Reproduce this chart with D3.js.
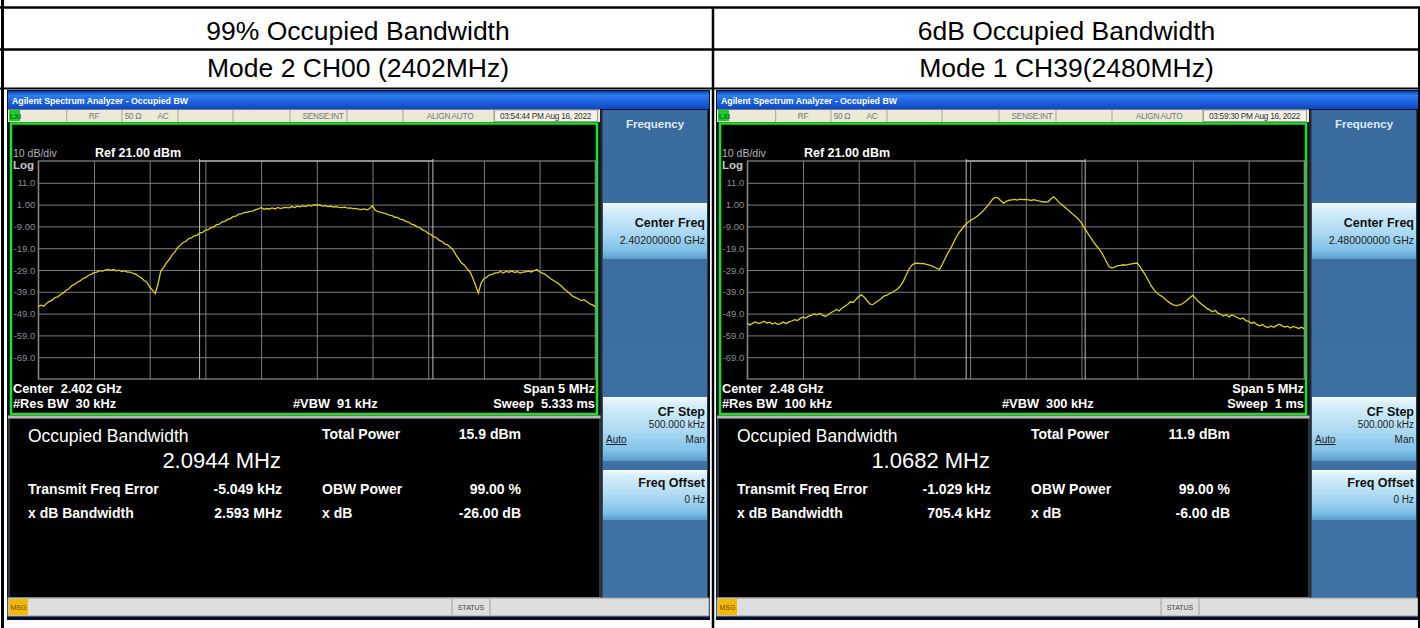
<!DOCTYPE html>
<html><head><meta charset="utf-8">
<script src="https://cdn.jsdelivr.net/npm/d3@7"></script>
<style>
html,body{margin:0;padding:0;background:#fff;}
svg{display:block;}
text{font-family:"Liberation Sans",Arial,sans-serif;}
</style></head>
<body>
<svg id="c" width="1420" height="628"></svg>
<script>
// ---------------- DATA ----------------
const headerTitles = ["99% Occupied Bandwidth", "6dB Occupied Bandwidth"];
const modeLabels = ["Mode 2 CH00 (2402MHz)", "Mode 1 CH39(2480MHz)"];
const timestamps = ["03:54:44 PM Aug 16, 2022", "03:59:30 PM Aug 16, 2022"];
const centerLabels = ["Center  2.402 GHz", "Center  2.48 GHz"];
const rbwLabels = ["#Res BW  30 kHz", "#Res BW  100 kHz"];
const vbwLabels = ["#VBW  91 kHz", "#VBW  300 kHz"];
const spanLabels = ["Span 5 MHz", "Span 5 MHz"];
const sweepLabels = ["Sweep  5.333 ms", "Sweep  1 ms"];
const centerFreqKeys = ["2.402000000 GHz", "2.480000000 GHz"];
const obwLabels = ["2.0944 MHz", "1.0682 MHz"];
const totalPowerLabels = ["15.9 dBm", "11.9 dBm"];
const freqErrorLabels = ["-5.049 kHz", "-1.029 kHz"];
const xdbBwLabels = ["2.593 MHz", "705.4 kHz"];
const obwPowerLabels = ["99.00 %", "99.00 %"];
const xdbLabels = ["-26.00 dB", "-6.00 dB"];
const obwMHz = [2.0944, 1.0682];
const freqErrMHz = [-0.005049, -0.001029];
const refLevel = 21;           // dBm
const dbPerDiv = 10;
const spanMHz = 5;
const yTickValues = [11, 1, -9, -19, -29, -39, -49, -59, -69];
const yTickLabels = ["11.0", "1.00", "-9.00", "-19.0", "-29.0", "-39.0", "-49.0", "-59.0", "-69.0"];

// trace (dBm), sweep from -2.5 MHz to +2.5 MHz offset
const traceMode2CH00 = [
-45.8,-45.1,-45.6,-44.2,-43.4,-42.8,-41.6,-41.3,-40.2,-39.5,-38.3,-37.6,-36.2,-35.6,-34.6,-34.0,-32.9,-32.5,-31.4,-31.0,-30.2,-30.0,-29.3,-29.5,-29.1,
-28.7,-29.2,-28.8,-29.4,-29.1,-29.7,-29.4,-30.0,-30.0,-30.6,-30.9,-31.9,-32.6,-33.8,-34.6,-36.8,-38.2,-39.7,-35.3,-29.4,-27.8,-25.7,-24.2,-22.2,-20.8,
-18.8,-17.6,-16.4,-15.8,-14.6,-14.3,-13.3,-13.1,-12.0,-11.8,-10.7,-10.5,-9.6,-9.3,-8.2,-8.0,-6.9,-6.7,-5.8,-5.4,-4.4,-4.3,-3.4,-3.3,-2.6,
-2.6,-2.1,-2.0,-1.3,-1.0,-0.3,-1.2,-0.8,-1.0,-0.5,-1.0,-0.3,-0.8,-0.4,-0.3,-0.5,0.1,-0.4,0.3,0.0,0.5,0.1,0.7,0.3,1.0,
0.7,0.9,0.3,0.5,0.1,0.3,-0.1,0.1,-0.3,-0.4,-0.2,-0.6,-0.5,-0.8,-0.7,-1.1,-1.3,-1.0,-1.4,-0.8,0.5,-1.6,-2.2,-2.6,-2.9,
-3.2,-3.8,-4.0,-4.8,-4.9,-5.8,-5.9,-6.8,-7.0,-8.0,-8.3,-9.2,-9.6,-10.7,-11.1,-12.2,-12.7,-13.8,-14.2,-15.4,-15.9,-17.1,-17.5,-18.7,-19.8,
-22.2,-24.0,-25.8,-26.8,-28.5,-29.8,-32.7,-36.0,-39.6,-35.0,-33.0,-32.3,-31.2,-31.0,-30.3,-30.3,-29.7,-30.4,-29.6,-30.1,-29.4,-30.2,-29.7,-30.4,-30.0,
-29.8,-29.5,-29.9,-29.3,-28.8,-29.8,-30.4,-31.0,-32.0,-33.0,-33.8,-34.6,-35.5,-36.6,-37.9,-38.9,-40.0,-41.1,-41.7,-42.3,-43.0,-42.6,-43.6,-44.5,-45.0,-45.8
];
const traceMode1CH39 = [
-53.5,-54.2,-53.4,-52.8,-53.6,-53.1,-52.5,-53.3,-52.9,-53.8,-53.2,-54.0,-53.5,-52.9,-53.6,-52.8,-52.4,-51.8,-52.2,-51.2,-50.6,-51.0,-50.2,-49.8,-49.2,
-49.6,-48.9,-49.7,-50.3,-49.5,-48.6,-47.9,-47.1,-47.8,-46.5,-45.6,-44.8,-43.6,-43.9,-42.5,-41.2,-40.4,-41.5,-43.0,-44.6,-44.9,-44.0,-43.1,-42.2,-41.0,
-40.6,-39.9,-39.2,-38.5,-37.6,-36.3,-34.2,-31.5,-28.8,-26.9,-26.0,-25.9,-26.1,-26.0,-26.3,-26.6,-27.0,-27.6,-28.2,-28.7,-26.5,-23.8,-21.2,-19.2,-16.6,
-14.0,-11.9,-10.3,-8.7,-7.3,-6.4,-5.6,-4.8,-3.9,-2.7,-1.4,0.0,1.6,3.4,4.3,4.1,2.8,1.7,2.5,3.0,3.2,3.4,3.1,3.5,3.3,
3.4,3.2,2.9,3.3,2.8,2.6,2.3,2.2,2.3,3.6,4.6,3.4,1.9,0.9,-0.2,-1.2,-2.4,-3.6,-4.6,-5.8,-7.5,-9.6,-11.6,-13.6,-15.5,
-17.3,-18.9,-20.6,-22.8,-25.3,-27.6,-28.1,-27.6,-27.0,-26.9,-26.6,-26.8,-26.4,-26.2,-26.0,-25.8,-27.4,-29.5,-31.4,-33.8,-36.2,-38.0,-39.5,-40.5,-41.2,
-42.3,-43.4,-44.3,-45.0,-45.3,-45.1,-44.6,-43.8,-42.8,-41.6,-40.6,-42.0,-43.5,-44.6,-45.5,-46.6,-47.3,-48.2,-47.5,-48.8,-49.3,-50.1,-49.4,-50.5,-49.6,
-50.2,-50.8,-51.5,-51.0,-52.2,-52.6,-53.4,-53.0,-54.1,-54.6,-54.0,-55.0,-55.4,-54.7,-55.3,-54.5,-53.9,-54.6,-55.2,-54.8,-55.6,-54.9,-55.3,-55.8,-55.2,-56.0
];
const traces = [traceMode2CH00, traceMode1CH39];

// ---------------- DRAW ----------------
const svg = d3.select("#c");
const defs = svg.append("defs");
function grad(id, stops){
  const g = defs.append("linearGradient").attr("id", id).attr("x1",0).attr("y1",0).attr("x2",0).attr("y2",1);
  stops.forEach(s=>g.append("stop").attr("offset",s[0]).attr("stop-color",s[1]));
}
grad("titleG", [[0,"#0a3fb0"],[0.25,"#2f7cf2"],[0.6,"#1c62dc"],[1,"#0d47c4"]]);
grad("keyG", [[0,"#f4fbff"],[0.12,"#d6eefa"],[0.55,"#a9d8f2"],[0.85,"#7fc0e8"],[1,"#5a9ccc"]]);
grad("panelG", [[0,"#3a6b9e"],[1,"#3e72a6"]]);

svg.append("rect").attr("width",1420).attr("height",628).attr("fill","#fff");

// table header texts
const cellCenters = [358, 1066.5];
cellCenters.forEach((cx,i)=>{
  svg.append("text").attr("x",cx).attr("y",40).attr("text-anchor","middle")
    .attr("font-size",26.5).attr("fill","#000").text(headerTitles[i]);
  svg.append("text").attr("x",cx).attr("y",77).attr("text-anchor","middle")
    .attr("font-size",26.5).attr("fill","#000").text(modeLabels[i]);
});

const offsets = [0, 709];
offsets.forEach((dx,k)=> drawScreen(svg.append("g").attr("transform",`translate(${dx},0)`), k));

// table lines
const tl = svg.append("g").attr("stroke","#000");
tl.append("line").attr("x1",0).attr("x2",1420).attr("y1",7.5).attr("y2",7.5).attr("stroke-width",2.5);
tl.append("line").attr("x1",0).attr("x2",1420).attr("y1",49.5).attr("y2",49.5).attr("stroke-width",2.5);
tl.append("line").attr("x1",0).attr("x2",1420).attr("y1",88.5).attr("y2",88.5).attr("stroke-width",2);
tl.append("line").attr("x1",2.5).attr("x2",2.5).attr("y1",0).attr("y2",628).attr("stroke-width",3);
tl.append("line").attr("x1",713).attr("x2",713).attr("y1",7).attr("y2",628).attr("stroke-width",2.5);
tl.append("line").attr("x1",1419).attr("x2",1419).attr("y1",7).attr("y2",628).attr("stroke-width",2);

function drawScreen(g, k){
  // window frame
  g.append("rect").attr("x",7).attr("y",90).attr("width",703).attr("height",530).attr("fill","#05102e");
  g.append("rect").attr("x",8).attr("y",91).attr("width",701).attr("height",18).attr("fill","url(#titleG)");
  g.append("text").attr("x",12).attr("y",104).attr("font-size",9.5).attr("font-weight","bold")
    .attr("fill","#fff").attr("font-family","'DejaVu Sans Condensed','Liberation Sans',sans-serif")
    .attr("textLength",176).attr("lengthAdjust","spacingAndGlyphs")
    .text("Agilent Spectrum Analyzer - Occupied BW");
  // status bar
  g.append("rect").attr("x",8).attr("y",109.5).attr("width",592).attr("height",12.5).attr("fill","#ece9d8");
  [66.7,122,178,233,290,347,403,494].forEach(x=>g.append("line").attr("x1",x).attr("x2",x)
    .attr("y1",110).attr("y2",122).attr("stroke","#a8a594").attr("stroke-width",1));
  g.append("rect").attr("x",494.5).attr("y",110).attr("width",103).attr("height",11.5).attr("fill","#f4f2e8")
    .attr("stroke","#8f8c80").attr("stroke-width",0.8);
  g.append("rect").attr("x",9).attr("y",110).attr("width",11).attr("height",11).attr("fill","#1fcc1f");
  g.append("text").attr("x",10).attr("y",119).attr("font-size",7).attr("font-weight","bold").attr("fill","#063").text("LXI");
  const st = [["RF",94],["50 \u03A9",133],["AC",163],["SENSE:INT",323],["ALIGN AUTO",450],[timestamps[k],545.5]];
  st.forEach(([t,x],i)=>g.append("text").attr("x",x).attr("y",119).attr("text-anchor","middle")
    .attr("font-size",8.3).attr("fill", i==5?"#333":"#777").attr("letter-spacing",-0.3).text(t));

  // display area
  g.append("rect").attr("x",11).attr("y",123.5).attr("width",586).attr("height",290.5)
    .attr("fill","#000").attr("stroke","#1fe01f").attr("stroke-width",2.5);

  const x = d3.scaleLinear().domain([-spanMHz/2, spanMHz/2]).range([38.3, 595.3]);
  const y = d3.scaleLinear().domain([refLevel - 10*dbPerDiv, refLevel]).range([379, 161]);

  // labels top
  g.append("text").attr("x",13).attr("y",157).attr("font-size",10.5).attr("fill","#b4b4b4").text("10 dB/div");
  g.append("text").attr("x",95).attr("y",157).attr("font-size",12.5).attr("font-weight","bold").attr("fill","#fff").text("Ref 21.00 dBm");
  g.append("text").attr("x",13).attr("y",169).attr("font-size",11.5).attr("font-weight","bold").attr("fill","#c8c8c8").text("Log");

  // grid via axes
  const yAxis = d3.axisLeft(y).tickValues(yTickValues).tickFormat((d,i)=>yTickLabels[i])
    .tickSize(-(x.range()[1]-x.range()[0])).tickPadding(3);
  const ya = g.append("g").attr("transform",`translate(${x.range()[0]},0)`).call(yAxis);
  ya.select(".domain").remove();
  ya.selectAll("line").attr("stroke","#7c7c7c").attr("stroke-width",1);
  ya.selectAll("text").attr("fill","#8c8c8c").attr("font-size",9.5)
    .attr("font-family","'Liberation Sans',Arial,sans-serif");

  const xt = d3.range(0, 11).map(i => -spanMHz/2 + i*spanMHz/10);
  const xAxis = d3.axisBottom(x).tickValues(xt).tickFormat("").tickSize(-(y.range()[0]-y.range()[1]));
  const xa = g.append("g").attr("transform",`translate(0,${y.range()[0]})`).call(xAxis);
  xa.select(".domain").remove();
  xa.selectAll("line").attr("stroke","#7c7c7c").attr("stroke-width",1);
  // grid border
  g.append("rect").attr("x",x.range()[0]).attr("y",y.range()[1]).attr("width",x.range()[1]-x.range()[0])
    .attr("height",y.range()[0]-y.range()[1]).attr("fill","none").attr("stroke","#8a8a8a").attr("stroke-width",1.2);

  // OBW markers
  const fl = freqErrMHz[k] - obwMHz[k]/2, fr = freqErrMHz[k] + obwMHz[k]/2;
  [fl, fr].forEach(f=>g.append("line").attr("x1",x(f)).attr("x2",x(f)).attr("y1",159).attr("y2",y.range()[0])
    .attr("stroke","#bdbdbd").attr("stroke-width",1));
  g.append("line").attr("x1",x(fl)).attr("x2",x(fr)).attr("y1",161).attr("y2",161).attr("stroke","#c8c8c8").attr("stroke-width",1.2);

  // trace
  const tr = traces[k];
  const n = tr.length;
  const line = d3.line().x((d,i)=>x(-spanMHz/2 + spanMHz*i/(n-1))).y(d=>y(d));
  g.append("path").datum(tr).attr("d",line).attr("fill","none").attr("stroke","#d8d21a").attr("stroke-width",1.3);

  // bottom annotations
  const bl = g.append("g").attr("font-size",12.8).attr("font-weight","bold").attr("fill","#fff");
  bl.append("text").attr("x",13).attr("y",393).attr("xml:space","preserve").text(centerLabels[k]);
  bl.append("text").attr("x",13).attr("y",408).attr("xml:space","preserve").text(rbwLabels[k]);
  bl.append("text").attr("x",293).attr("y",408).attr("xml:space","preserve").text(vbwLabels[k]);
  bl.append("text").attr("x",595).attr("y",393).attr("text-anchor","end").text(spanLabels[k]);
  bl.append("text").attr("x",595).attr("y",408).attr("text-anchor","end").attr("xml:space","preserve").text(sweepLabels[k]);

  // separator + result panel
  g.append("rect").attr("x",8).attr("y",415.5).attr("width",593).attr("height",3).attr("fill","#b9b9b9");
  g.append("rect").attr("x",9).attr("y",418.5).attr("width",591).attr("height",179).attr("fill","#000")
    .attr("stroke","#6a6a6a").attr("stroke-width",1);
  const rp = g.append("g").attr("fill","#fff");
  rp.append("text").attr("x",28).attr("y",442).attr("font-size",17.5).text("Occupied Bandwidth");
  rp.append("text").attr("x",281).attr("y",468).attr("font-size",22).attr("text-anchor","end").text(obwLabels[k]);
  const b = rp.append("g").attr("font-size",14).attr("font-weight","bold");
  b.append("text").attr("x",322).attr("y",439).text("Total Power");
  b.append("text").attr("x",521).attr("y",439).attr("text-anchor","end").text(totalPowerLabels[k]);
  b.append("text").attr("x",28).attr("y",494).text("Transmit Freq Error");
  b.append("text").attr("x",282).attr("y",494).attr("text-anchor","end").text(freqErrorLabels[k]);
  b.append("text").attr("x",322).attr("y",494).text("OBW Power");
  b.append("text").attr("x",521).attr("y",494).attr("text-anchor","end").text(obwPowerLabels[k]);
  b.append("text").attr("x",28).attr("y",518).text("x dB Bandwidth");
  b.append("text").attr("x",282).attr("y",518).attr("text-anchor","end").text(xdbBwLabels[k]);
  b.append("text").attr("x",322).attr("y",518).text("x dB");
  b.append("text").attr("x",521).attr("y",518).attr("text-anchor","end").text(xdbLabels[k]);

  // softkey panel
  g.append("rect").attr("x",601).attr("y",110).attr("width",108).attr("height",488).attr("fill","url(#panelG)");
  g.append("line").attr("x1",601.5).attr("x2",601.5).attr("y1",110).attr("y2",598).attr("stroke","#2a2a2a").attr("stroke-width",2);
  g.append("line").attr("x1",708.5).attr("x2",708.5).attr("y1",110).attr("y2",598).attr("stroke","#0a0a0a").attr("stroke-width",2);
  g.append("text").attr("x",655).attr("y",128).attr("text-anchor","middle").attr("font-size",11.5)
    .attr("font-weight","bold").attr("fill","#dfe9f4").text("Frequency");
  const keys = [[203,56],[397,64],[470,50]];
  keys.forEach(([ky,kh])=>g.append("rect").attr("x",603).attr("y",ky).attr("width",104).attr("height",kh).attr("fill","url(#keyG)"));
  const kt = g.append("g").attr("fill","#111").attr("text-anchor","end");
  kt.append("text").attr("x",705).attr("y",227).attr("font-size",12.5).attr("font-weight","bold").text("Center Freq");
  kt.append("text").attr("x",705).attr("y",244).attr("font-size",10.5).attr("fill","#222").text(centerFreqKeys[k]);
  kt.append("text").attr("x",705).attr("y",416).attr("font-size",12.5).attr("font-weight","bold").text("CF Step");
  kt.append("text").attr("x",705).attr("y",428).attr("font-size",10).attr("fill","#222").text("500.000 kHz");
  kt.append("text").attr("x",705).attr("y",443).attr("font-size",10).attr("fill","#222").text("Man");
  kt.append("text").attr("x",705).attr("y",487).attr("font-size",12.5).attr("font-weight","bold").text("Freq Offset");
  kt.append("text").attr("x",705).attr("y",503).attr("font-size",10).attr("fill","#222").text("0 Hz");
  g.append("text").attr("x",606).attr("y",443).attr("font-size",10).attr("fill","#222")
    .attr("text-decoration","underline").text("Auto");

  // message bar
  g.append("rect").attr("x",8).attr("y",598).attr("width",701).attr("height",18).attr("fill","#dedede")
    .attr("stroke","#9a9a9a").attr("stroke-width",1);
  g.append("rect").attr("x",9).attr("y",599).attr("width",19).attr("height",16).attr("fill","#f5b800");
  g.append("text").attr("x",18.5).attr("y",610).attr("text-anchor","middle").attr("font-size",7).attr("fill","#6b4a00").text("MSG");
  [452,490].forEach(xx=>g.append("line").attr("x1",xx).attr("x2",xx).attr("y1",599).attr("y2",615).attr("stroke","#a0a0a0"));
  g.append("text").attr("x",471).attr("y",610).attr("text-anchor","middle").attr("font-size",7).attr("fill","#444").text("STATUS");
}
</script>
</body></html>
